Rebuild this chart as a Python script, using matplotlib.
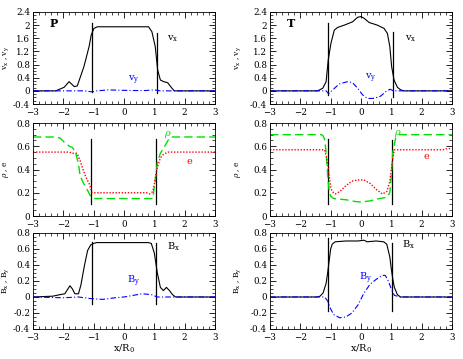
import matplotlib
matplotlib.use("Agg")
import matplotlib.pyplot as plt
from matplotlib.ticker import MultipleLocator

plt.rcParams["font.family"] = "DejaVu Serif"
plt.rcParams["mathtext.fontset"] = "dejavuserif"
plt.rcParams["font.size"] = 6.3

# ---- data ----
# P case (left column)
p_vx_x = [-3, -2.25, -1.97, -1.81, -1.64, -1.54, -1.32, -1.15, -1.08, -0.99, -0.88, 0.81,
          0.92, 1.03, 1.11, 1.20, 1.31, 1.44, 1.58, 1.66, 3]
p_vx_y = [0, 0, 0.11, 0.28, 0.13, 0.15, 0.74, 1.35, 1.70, 1.90, 1.95, 1.95,
          1.80, 1.35, 0.64, 0.33, 0.28, 0.25, 0.08, 0, 0]
p_vy_x = [-3, -2.0, -1.3, -1.05, -0.9, -0.5, -0.2, 0.3, 0.7, 1.0, 1.2, 1.6, 3]
p_vy_y = [0, 0, 0, -0.03, 0.0, 0.03, 0.02, 0.01, 0.01, 0.03, 0.0, 0, 0]

p_rho_x = [-3, -2.25, -2.1, -1.95, -1.8, -1.7, -1.6, -1.5, -1.45, -1.35, -1.2, -1.1, -1.0,
           0.95, 1.0, 1.05, 1.1, 1.2, 1.3, 1.45, 1.55, 3]
p_rho_y = [0.68, 0.68, 0.67, 0.63, 0.60, 0.59, 0.55, 0.45, 0.35, 0.29, 0.22, 0.17, 0.15,
           0.15, 0.25, 0.35, 0.46, 0.54, 0.58, 0.65, 0.68, 0.68]
p_e_x = [-3, -1.8, -1.7, -1.55, -1.45, -1.35, -1.25, -1.15, -1.05, -1.0, 0.75, 0.85, 0.95,
         1.0, 1.05, 1.1, 1.2, 1.3, 1.45, 3]
p_e_y = [0.55, 0.55, 0.54, 0.54, 0.48, 0.40, 0.33, 0.28, 0.20, 0.20, 0.20, 0.19, 0.21,
         0.27, 0.35, 0.42, 0.50, 0.53, 0.55, 0.55]

p_bx_x = [-3, -2.35, -2.1, -1.95, -1.85, -1.78, -1.7, -1.62, -1.5, -1.42, -1.3, -1.2, -1.1,
          -1.0, -0.9, 0.8, 0.9, 1.0, 1.1, 1.2, 1.3, 1.4, 1.5, 1.6, 1.7, 3]
p_bx_y = [0, 0.01, 0.03, 0.04, 0.10, 0.14, 0.10, 0.04, 0.04, 0.15, 0.40, 0.58, 0.65,
          0.67, 0.68, 0.68, 0.67, 0.55, 0.30, 0.12, 0.08, 0.12, 0.08, 0.03, 0.0, 0]
p_by_x = [-3, -2.0, -1.5, -1.1, -0.7, -0.3, 0.0, 0.3, 0.6, 0.9, 1.1, 1.5, 3]
p_by_y = [0, -0.01, 0.0, -0.02, -0.03, -0.01, 0.0, 0.02, 0.04, 0.03, 0.0, 0.0, 0]

# T case (right column)
t_vx_x = [-3, -1.43, -1.26, -1.15, -1.08, -0.99, -0.88, -0.77, -0.55, -0.28, -0.11, 0.0, 0.1,
          0.27, 0.54, 0.76, 0.87, 0.95, 1.01, 1.09, 1.2, 1.31, 1.42, 3]
t_vx_y = [0, 0, 0.08, 0.28, 0.94, 1.45, 1.85, 1.93, 2.0, 2.1, 2.24, 2.26, 2.21,
          2.08, 2.0, 1.9, 1.75, 1.35, 0.74, 0.33, 0.11, 0.03, 0, 0]
t_vy_x = [-3, -1.15, -1.07, -0.93, -0.72, -0.44, -0.28, -0.11, 0.05, 0.21, 0.43, 0.65,
          0.82, 0.96, 1.07, 3]
t_vy_y = [0, 0, -0.09, 0.03, 0.21, 0.28, 0.25, 0.08, -0.12, -0.23, -0.23, -0.16,
          -0.02, 0.05, 0, 0]

t_rho_x = [-3, -1.3, -1.25, -1.2, -1.15, -1.1, -1.05, -1.0, -0.9, -0.5, -0.2, 0.0, 0.3,
           0.6, 0.85, 0.95, 1.0, 1.05, 1.15, 1.25, 3]
t_rho_y = [0.70, 0.70, 0.69, 0.66, 0.55, 0.35, 0.22, 0.17, 0.15, 0.14, 0.125, 0.12, 0.13,
           0.15, 0.16, 0.20, 0.35, 0.55, 0.68, 0.70, 0.70]
t_e_x = [-3, -1.2, -1.15, -1.1, -1.05, -1.0, -0.95, -0.85, -0.7, -0.5, -0.3, -0.1, 0.1,
         0.3, 0.5, 0.7, 0.85, 0.95, 1.0, 1.05, 1.1, 2.7, 2.85, 3]
t_e_y = [0.57, 0.57, 0.52, 0.45, 0.35, 0.25, 0.21, 0.19, 0.21, 0.26, 0.30, 0.31, 0.31,
         0.28, 0.23, 0.19, 0.21, 0.30, 0.40, 0.50, 0.57, 0.57, 0.58, 0.58]

t_bx_x = [-3, -1.45, -1.35, -1.25, -1.15, -1.1, -1.05, -1.0, -0.95, -0.85, -0.5, -0.1,
          0.1, 0.2, 0.5, 0.75, 0.85, 0.95, 1.0, 1.05, 1.1, 1.2, 1.3, 3]
t_bx_y = [0, 0, 0.01, 0.05, 0.17, 0.30, 0.45, 0.60, 0.66, 0.69, 0.70, 0.70,
          0.71, 0.69, 0.70, 0.69, 0.66, 0.50, 0.35, 0.22, 0.12, 0.03, 0.0, 0]
t_by_x = [-3, -1.2, -1.1, -1.0, -0.9, -0.7, -0.5, -0.3, -0.1, 0.1, 0.3, 0.5, 0.7, 0.8,
          0.9, 1.0, 1.1, 1.3, 3]
t_by_y = [0, 0, -0.05, -0.15, -0.22, -0.26, -0.25, -0.20, -0.10, 0.05, 0.16, 0.22, 0.27,
          0.27, 0.20, 0.10, 0.02, 0.0, 0]

# shock marker lines: (x, ymin, ymax)
p_shocks = [[(-1.07, -0.03, 2.07), (1.08, -0.07, 1.76)],
            [(-1.08, 0.10, 0.66), (1.04, 0.10, 0.66)],
            [(-1.07, -0.09, 0.69), (1.04, -0.09, 0.675)]]
t_shocks = [[(-1.09, -0.13, 2.06), (1.06, -0.19, 1.79)],
            [(-1.08, 0.10, 0.66), (1.03, 0.10, 0.65)],
            [(-1.08, -0.18, 0.74), (1.03, -0.18, 0.67)]]

blue = "#0000ff"
green = "#00e000"
red = "#ff0000"

fig = plt.figure(figsize=(4.64, 3.59), dpi=100)

lefts = [0.0711, 0.5819]
width = 0.3922
rows = [(0.7103, 0.2563), (0.3983, 0.2590), (0.0836, 0.2674)]
ylims = [(-0.4, 2.4), (0, 0.8), (-0.4, 0.8)]
ymajor = [0.4, 0.2, 0.2]
yminor = [0.1, 0.05, 0.05]
ylabels = [r"$\mathrm{v_x}$ , $\mathrm{v_y}$", r"$\rho$ , e", r"$\mathrm{B_x}$ , $\mathrm{B_y}$"]
ylabel_x = [-0.12, -0.15]


def style_axis(ax, row):
    ax.set_xlim(-3, 3)
    ax.set_ylim(*ylims[row])
    ax.xaxis.set_major_locator(MultipleLocator(1))
    ax.xaxis.set_minor_locator(MultipleLocator(0.2))
    ax.yaxis.set_major_locator(MultipleLocator(ymajor[row]))
    ax.yaxis.set_minor_locator(MultipleLocator(yminor[row]))
    ax.tick_params(which="both", direction="in", top=True, right=True)
    ax.tick_params(axis="y", pad=2)
    ax.tick_params(axis="x", pad=3.2)
    ax.tick_params(which="major", length=4, width=0.6)
    ax.tick_params(which="minor", length=2, width=0.5)
    ax.yaxis.set_major_formatter(plt.FuncFormatter(lambda v, p: f"{v:g}"))
    for s in ax.spines.values():
        s.set_linewidth(0.6)


cases = [
    dict(name="P", vx=(p_vx_x, p_vx_y), vy=(p_vy_x, p_vy_y), rho=(p_rho_x, p_rho_y),
         e=(p_e_x, p_e_y), bx=(p_bx_x, p_bx_y), by=(p_by_x, p_by_y), shocks=p_shocks,
         lab=dict(vx=(1.42, 1.6), vy=(0.13, 0.33), rho=(1.31, 0.70), e=(2.07, 0.47),
                  bx=(1.42, 0.63), by=(0.1, 0.19))),
    dict(name="T", vx=(t_vx_x, t_vx_y), vy=(t_vy_x, t_vy_y), rho=(t_rho_x, t_rho_y),
         e=(t_e_x, t_e_y), bx=(t_bx_x, t_bx_y), by=(t_by_x, t_by_y), shocks=t_shocks,
         lab=dict(vx=(1.45, 1.6), vy=(0.13, 0.39), rho=(1.09, 0.71), e=(2.07, 0.51),
                  bx=(1.35, 0.65), by=(-0.06, 0.23))),
]

for col, c in enumerate(cases):
    axes = [fig.add_axes([lefts[col], b, width, h]) for b, h in rows]
    for row, ax in enumerate(axes):
        style_axis(ax, row)
        for xs, y0, y1 in c["shocks"][row]:
            ax.plot([xs, xs], [y0, y1], color="black", lw=0.9)
        ax.set_ylabel(ylabels[row], fontsize=5.5)
        ax.yaxis.set_label_coords(ylabel_x[col], 0.5)
    lab = c["lab"]

    ax = axes[0]
    ax.plot(*c["vx"], color="black", lw=0.8)
    ax.plot(*c["vy"], color=blue, lw=0.8, ls=(0, (5, 2, 1, 2)))
    ax.text(-2.45, 2.05, c["name"], fontsize=8, fontweight="bold", va="center")
    ax.text(*lab["vx"], r"$\mathrm{v_x}$", fontsize=7, va="center")
    ax.text(*lab["vy"], r"$\mathrm{v_y}$", fontsize=7, va="center", color=blue)

    ax = axes[1]
    ax.plot(*c["rho"], color=green, lw=1.0, ls=(0, (6, 3)))
    ax.plot(*c["e"], color=red, lw=1.0, ls=(0, (1, 1.2)))
    ax.text(*lab["rho"], r"$\rho$", fontsize=7, va="center", color=green)
    ax.text(*lab["e"], "e", fontsize=7, va="center", color=red)

    ax = axes[2]
    ax.plot(*c["bx"], color="black", lw=0.8)
    ax.plot(*c["by"], color=blue, lw=0.8, ls=(0, (5, 2, 1, 2)))
    ax.text(*lab["bx"], r"$\mathrm{B_x}$", fontsize=7, va="center")
    ax.text(*lab["by"], r"$\mathrm{B_y}$", fontsize=7, va="center", color=blue)
    ax.set_xlabel(r"$\mathrm{x/R_0}$", labelpad=0, fontsize=7)

fig.savefig("out.png", dpi=100)
